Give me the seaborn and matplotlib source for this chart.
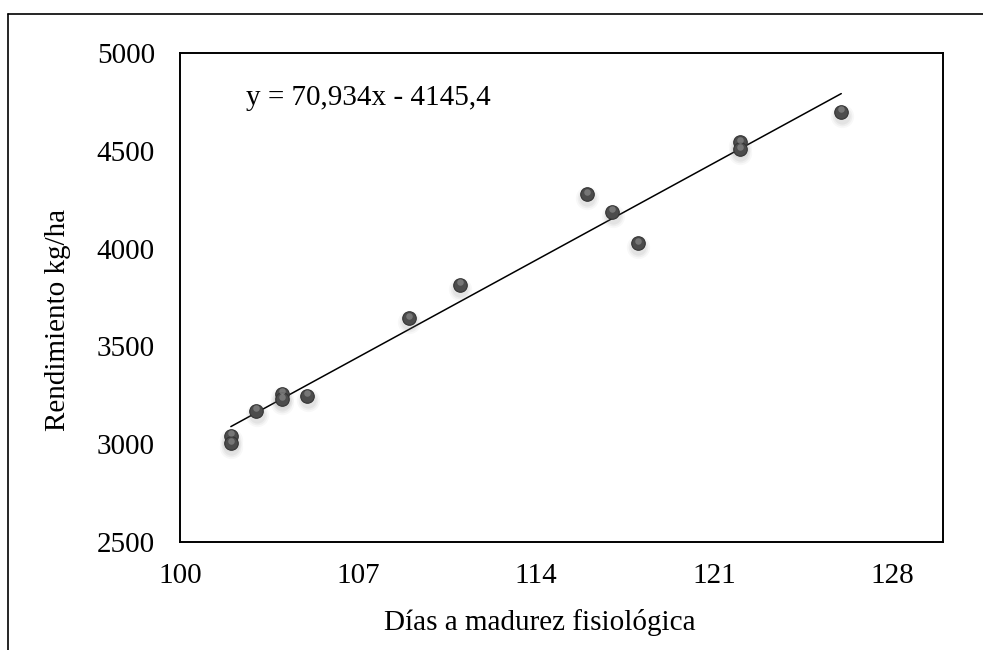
import matplotlib
matplotlib.use("Agg")
import matplotlib.pyplot as plt
import matplotlib.transforms as mtransforms
from matplotlib.lines import Line2D
import numpy as np
import pandas as pd
import seaborn as sns

# Days to physiological maturity and yield (kg/ha)
dias = [102, 102, 103, 104, 104, 105, 109, 111, 116, 117, 118, 122, 122, 126]
rendimiento = [3044, 3005, 3171, 3257, 3229, 3248, 3643, 3814, 4279, 4189, 4027, 4543, 4509, 4700]

# Linear trend reported on the chart
pendiente = 70.934
intercepto = -4145.4
ecuacion = "y = 70,934x - 4145,4"

x_ticks = [100, 107, 114, 121, 128]
y_ticks = [2500, 3000, 3500, 4000, 4500, 5000]

df = pd.DataFrame({"dias": dias, "rendimiento": rendimiento})

sns.set_theme(style="white")
plt.rcParams["font.family"] = ["Liberation Serif", "DejaVu Serif"]

FS = 21

fig = plt.figure(figsize=(9.83, 6.5), dpi=100)
ax = fig.add_axes([0.1831, 0.1662, 0.7762, 0.7523])

# Trend line across the observed range
x_lin = np.array([min(dias), max(dias)])
tendencia = pd.DataFrame({"dias": x_lin, "rendimiento": pendiente * x_lin + intercepto})
sns.lineplot(data=tendencia, x="dias", y="rendimiento", ax=ax, color="black",
             linewidth=1.1, zorder=2)

# Soft drop shadow under each marker
for s, a in [(280, 0.05), (200, 0.07), (135, 0.09)]:
    sh = mtransforms.offset_copy(ax.transData, fig=fig, x=0.5, y=-4, units="dots")
    ax.scatter(dias, rendimiento, s=s, color="#777777", alpha=a, linewidths=0,
               transform=sh, zorder=3)

# Spherical markers
sns.scatterplot(data=df, x="dias", y="rendimiento", ax=ax, s=95, color="#4c4c4c",
                edgecolor="#343434", linewidth=0.8, zorder=4, legend=False)
hl = mtransforms.offset_copy(ax.transData, fig=fig, x=0, y=2.5, units="dots")
ax.scatter(dias, rendimiento, s=22, color="#9a9a9a", alpha=0.55, linewidths=0,
           transform=hl, zorder=5)

ax.text(102.6, 4770, ecuacion, fontsize=FS, color="black", va="center", ha="left")

ax.set_xlim(100, 130)
ax.set_ylim(2500, 5000)
ax.set_xticks(x_ticks)
ax.set_yticks(y_ticks)
ax.tick_params(axis="both", length=0, labelsize=FS, colors="black")
ax.tick_params(axis="y", pad=18)
ax.tick_params(axis="x", pad=15)
ax.set_xlabel("Días a madurez fisiológica", fontsize=FS, color="black")
ax.set_ylabel("Rendimiento kg/ha", fontsize=FS, color="black")
ax.xaxis.label.set_va("center")
ax.yaxis.label.set_va("center")
ax.xaxis.set_label_coords(0.472, -0.164)
ax.yaxis.set_label_coords(-0.16, 0.454)
for sp in ax.spines.values():
    sp.set_visible(True)
    sp.set_color("black")
    sp.set_linewidth(1.4)
ax.grid(False)

# Outer chart frame (left and top edges)
fig.add_artist(Line2D([0.0082, 0.0082], [0.0, 0.9785], color="black", linewidth=1.2,
                      transform=fig.transFigure))
fig.add_artist(Line2D([0.0082, 1.0], [0.9785, 0.9785], color="black", linewidth=1.2,
                      transform=fig.transFigure))

fig.savefig("out.png", dpi=100, facecolor="white")
